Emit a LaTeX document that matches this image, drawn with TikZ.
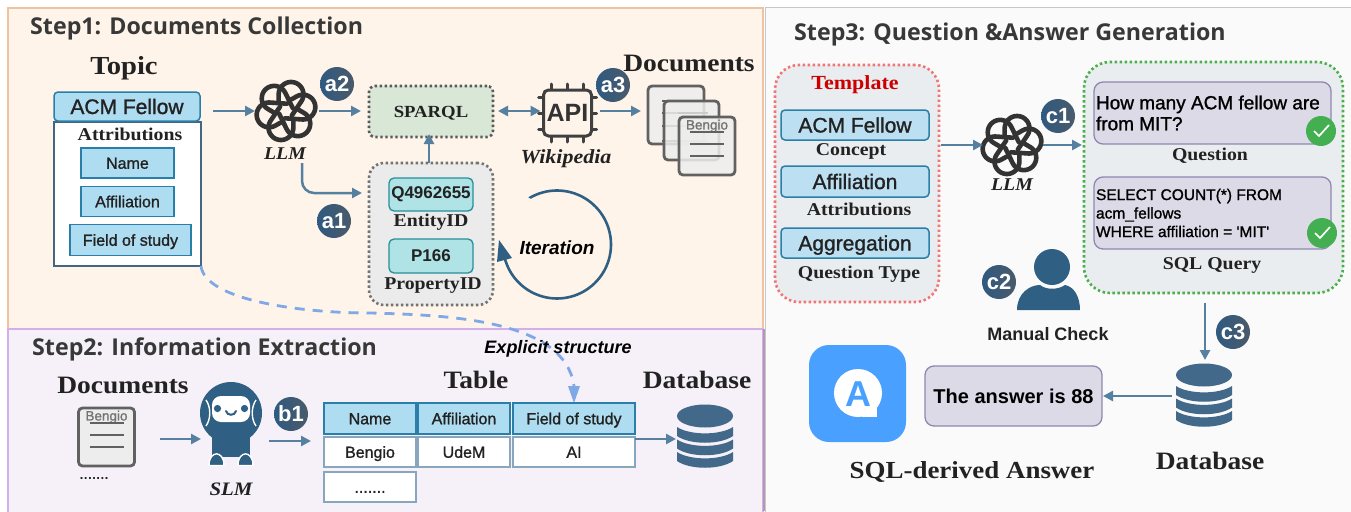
\documentclass[tikz,border=0pt]{standalone}
\usepackage{fontspec}
\setmainfont[FakeStretch=1.1]{Liberation Serif}
\newfontfamily\sa[FakeBold=1.2]{Liberation Sans}
\newfontfamily\sbd{Liberation Sans}
\newfontfamily\ti{Open Sans}
\usetikzlibrary{arrows.meta,calc,shadings}
\newcommand{\fs}[1]{\fontsize{#1}{#1}\selectfont}
\definecolor{arrowc}{HTML}{5580A0}
\definecolor{iconc}{HTML}{2F5F82}
\definecolor{dbc}{HTML}{43698A}
\definecolor{ink}{HTML}{222222}
\definecolor{boxblue}{HTML}{AEDDF2}
\definecolor{boxblueb}{HTML}{BCE0F1}
\definecolor{boxedge}{HTML}{2A7FA8}
\definecolor{dashc}{HTML}{7FA8E6}
\definecolor{purpf}{HTML}{DDDAE8}
\definecolor{purpe}{HTML}{8E88B0}
\definecolor{checkc}{HTML}{44AF50}
\definecolor{stepf}{HTML}{EAEDF0}
\definecolor{panelA}{HTML}{FEF4EA}
\definecolor{panelAe}{HTML}{EDC3A1}
\definecolor{panelB}{HTML}{F6F0F8}
\definecolor{panelBe}{HTML}{D3AEEB}
\definecolor{panelC}{HTML}{FAFAFA}
\definecolor{cyanf}{HTML}{B0E3E5}
\definecolor{cyane}{HTML}{25909A}
\definecolor{sparf}{HTML}{D9E8D6}
\definecolor{aiblue}{HTML}{4AA0FF}
\definecolor{tred}{HTML}{CC0000}
\definecolor{badgeL}{HTML}{2F5A80}
\definecolor{badgeR}{HTML}{4A5A6A}
\tikzset{
  x=1pt,y=-1pt,
  arr/.style={draw=arrowc,line width=2.5pt,-{Triangle[length=10pt,width=10pt]}},
  arrb/.style={draw=arrowc,line width=2.5pt,{Triangle[length=10pt,width=10pt]}-{Triangle[length=10pt,width=10pt]}},
  box/.style={inner sep=0pt,outer sep=0pt,align=center,text=ink},
  icon/.style={inner sep=0pt,outer sep=0pt,minimum size=#1},
  heading/.style={inner sep=0pt,anchor=west,text=black!78,font=\ti\bfseries\fs{23.2}},
  serif/.style={inner sep=0pt,text=ink,font=\bfseries\fs{#1}},
  serifit/.style={inner sep=0pt,text=ink,font=\bfseries\itshape\fs{#1}},
  sanstxt/.style={inner sep=0pt,text=ink,font=\sa\fs{#1}},
  blue/.style={box,draw=boxedge,line width=1.5pt,fill=boxblue,font=\sa\fs{16},text height=11.5pt,text depth=0pt},
  bluer/.style={blue,rounded corners=4pt,font=\sa\fs{21},text height=15pt},
  cyanb/.style={box,draw=cyane,line width=1.3pt,fill=cyanf,rounded corners=5pt,font=\sbd\bfseries\fs{17}},
  cell/.style={box,draw=arrowc!70,line width=1.4pt,fill=white,font=\sa\fs{16},text height=11.5pt,text depth=0pt},
  purp/.style={box,draw=purpe,line width=1.3pt,fill=purpf,rounded corners=9pt},
  dots/.style={box,dash pattern=on 2.4pt off 2.6pt,line width=2.6pt,rounded corners=#1},
  badge/.style={circle,minimum size=34pt,inner sep=0pt,left color=badgeL,right color=badgeR,text=white,font=\sbd\bfseries\fs{22}},
  doc/.style={draw=black!62,line width=2.8pt,fill=black!7,fill opacity=.85,rounded corners=4pt},
  docl/.style={draw=black!62,line width=2.2pt},
}
% OpenAI-like knot
\newcommand{\knot}[2]{%
  \foreach \a in {0,60,...,300}{%
    \begin{scope}[shift={(#1)},rotate=\a+13,scale=#2]
      \draw[draw=black!80,line width=4.6pt,line cap=round,line join=round]
        (0.25,-0.325) -- plot[domain=-107:107,samples=30]({0.56+0.40*cos(\x)},{0.40*sin(\x)}) -- (-0.083,0.222);
    \end{scope}}}
% database icon
\newcommand{\dbicon}[1]{%
  \begin{scope}[shift={(#1)}]
    \fill[dbc] (0,-21) ellipse (28 and 11.5);
    \foreach \y in {-10,2.5,15}{%
      \fill[dbc] (-28,\y) .. controls (-15,\y+8.5) and (15,\y+8.5) .. (28,\y) -- (28,\y+9) .. controls (15,\y+18) and (-15,\y+18) .. (-28,\y+9) -- cycle;}
  \end{scope}}
% document icon
\newcommand{\docicon}[1]{%
  \begin{scope}[shift={(#1)}]
    \draw[doc] (-28,-29) rectangle (28,29);
    \node[inner sep=0pt,text=black!55,font=\sa\fs{13.5}] at (0,-20) {Bengio};
    \foreach \y in {-14,-2,10}{\draw[docl] (-17,\y) -- (17,\y);}
  \end{scope}}
% check
\newcommand{\checkicon}[1]{%
  \fill[checkc] (#1) circle (15);
  \draw[white,line width=1.7pt] ($(#1)+(-7,0)$) -- ($(#1)+(-2,5)$) -- ($(#1)+(8,-6)$);}
\begin{document}
\begin{tikzpicture}
\useasboundingbox (0,0) rectangle (1351,511);
\fill[white] (0,0) rectangle (1351,511);
% panels
\path[fill=panelA,draw=panelAe,line width=1.6pt] (8,8) rectangle (763,329);
\path[fill=panelB,draw=panelBe,line width=1.8pt] (8,329) rectangle (763,516);
\path[fill=panelC,draw=black!22,line width=1pt] (765,8) rectangle (1356,516);
\draw[draw=violet!35!gray!60!white,line width=2.5pt] (764,329) -- (764,511);
% titles
\node[heading] (t1) at (30,28) {Step1: Documents Collection};
\node[heading] (t2) at (32,349) {Step2: Information Extraction};
\node[heading] (t3) at (794,34.5) {Step3: Question \&Answer Generation};

% STEP 1
\node[serif=26] (topic) at (124,68) {Topic};
\node[box,draw=arrowc!80!black,line width=1.4pt,fill=white,minimum width=147pt,minimum height=144pt] (attr) at (127.5,194) {};
\node[bluer,minimum width=146pt,minimum height=29pt] (acm) at (127,106.5) {ACM Fellow};
\node[serif=18] (attrt) at (130,134) {Attributions};
\node[blue,minimum width=93pt,minimum height=30pt] (name) at (127.5,163) {Name};
\node[blue,minimum width=93pt,minimum height=30pt] (aff) at (127.5,201.5) {Affiliation};
\node[blue,minimum width=121pt,minimum height=31pt] (fos) at (130.5,240) {Field of study};

\node[icon=62pt] (llma) at (286,111) {};
\knot{llma}{31}
\node[serifit=18] (llmal) at (285,154) {LLM};
\node[box,draw=black!65,dots=6pt,fill=sparf,minimum width=124pt,minimum height=51pt,font=\bfseries\fs{17},text height=11.5pt,text depth=0pt] (sparql) at (431,111.5) {SPARQL};
\node[box,draw=black!55,dots=15pt,fill=black!8,minimum width=124pt,minimum height=142pt] (ids) at (431,234) {};
\node[cyanb,minimum width=84pt,minimum height=33pt] (q) at (431,194.5) {Q4962655};
\node[serif=18] (ql) at (431,222.5) {EntityID};
\node[cyanb,minimum width=84pt,minimum height=34pt] (p) at (431,256) {P166};
\node[serif=18] (pl) at (433,286) {PropertyID};

\node[icon=50pt] (api) at (567.5,113) {};
\foreach \t in {-16,0,16}{%
  \draw[black!75,line width=3pt,line cap=round] ($(api)+(\t,-29)$) -- ($(api)+(\t,-22)$);
  \draw[black!75,line width=3pt,line cap=round] ($(api)+(\t,22)$) -- ($(api)+(\t,29)$);
  \draw[black!75,line width=3pt,line cap=round] ($(api)+(-29,\t)$) -- ($(api)+(-22,\t)$);
  \draw[black!75,line width=3pt,line cap=round] ($(api)+(22,\t)$) -- ($(api)+(29,\t)$);}
\node[box,draw=black!75,line width=3pt,fill=panelA,rounded corners=5pt,minimum width=48pt,minimum height=46pt,font=\sbd\bfseries\fs{25},text=black!80] (apib) at (api) {API};
\node[serifit=20] (wiki) at (566,159) {Wikipedia};
\node[serif=25] (docs1) at (689,63) {Documents};
\node[icon=58pt] (d1) at (676,115) {};
\draw[doc] (648,86) rectangle (704,144);
\foreach \y in {101,113,126,141}{\draw[docl] (662,\y) -- (693,\y);}
\draw[doc] (664,101) rectangle (719,160);
\foreach \y in {113,126,141}{\draw[docl,black!20] (678,\y) -- (708,\y);}
\node[icon=58pt] (d3) at (707,146) {};
\docicon{d3}

\node[badge] (a2) at (337,84) {a2};
\node[badge] (a1) at (334,221) {a1};
\node[badge] (a3) at (613,85) {a3};

\draw[arr] ([shift={(13,4.5)}]acm.east) -- (llma.west);
\draw[arr] ([shift={(2,0)}]llma.east) -- ([shift={(-8,-.5)}]sparql.west);
\coordinate (elbowS) at (302,163);
\coordinate (elbow) at (302,193);
\draw[arr,rounded corners=12pt] (elbowS) -- (elbow) -- ([shift={(-7,-41)}]ids.west);
\draw[arr] ([shift={(-2,0)}]ids.north) -- ([shift={(-2,-3)}]sparql.south);
\draw[arrb] ([shift={(5,-.5)}]sparql.east) -- ([shift={(-3,-2)}]apib.west);
\draw[arr] ([shift={(8,-2)}]apib.east) -- ([shift={(-6,-4)}]d1.west);
\coordinate (itA) at (530,198);
\coordinate (itB) at (499,240);
\draw[iconc,line width=2.6pt] (itA) -- plot[domain=120:-166,samples=80]({557+54*cos(\x)},{244.5-54*sin(\x)});
\fill[iconc] (itB) -- (497,262) -- (512,258) -- cycle;
\node[inner sep=0pt,font=\sbd\bfseries\itshape\fs{19},text=black] (iter) at (557,248) {Iteration};

% Dashed
\coordinate (dA) at (574,403);
\draw[draw=dashc,line width=2.8pt,dash pattern=on 10pt off 8pt]
  (attr.south east) .. controls (205,300) and (300,313) .. (370,313) .. controls (450,315) and (565,320) .. (574,386);
\fill[dashc] (568,386) -- (580,386) -- (dA) -- cycle;

% STEP 2
\node[inner sep=0pt,font=\sbd\bfseries\itshape\fs{18},text=black] (expl) at (558,349) {Explicit structure};
\node[serif=25] (docs2) at (123,385) {Documents};
\node[serif=25] (tablet) at (476,380) {Table};
\node[serif=25] (db2l) at (697,380) {Database};
\node[icon=58pt] (d4) at (106.5,437) {};
\docicon{d4}
\node[sanstxt=15] (dd1) at (94,478) {.......};

\node[icon=64pt] (slm) at (231,424) {};
\begin{scope}[shift={(slm)}]
  \fill[iconc] (0,-11) circle (31);
  \fill[iconc] (-19,6) rectangle (19,33);
  \fill[white,rounded corners=9pt] (-19,-28) rectangle (19,-2);
  \fill[iconc] (-13.5,-15.5) circle (3.6) (13.5,-15.5) circle (3.6);
  \draw[iconc,line width=2pt,line cap=round] (-5,-13) .. controls (-4,-8) and (4,-8) .. (5,-13);
  \draw[white,line width=1.4pt] (-25,-24) .. controls (-20,-17) and (-20,-5) .. (-25,2);
  \draw[white,line width=1.4pt] (25,-24) .. controls (20,-17) and (20,-5) .. (25,2);
  \fill[iconc,draw=white,line width=1.4pt] (-22,41.5) .. controls (-22,26) and (-7,26) .. (-7,41.5) -- cycle;
  \fill[iconc,draw=white,line width=1.4pt] (7,41.5) .. controls (7,26) and (22,26) .. (22,41.5) -- cycle;
  \fill[panelB] (-24,42) rectangle (24,45);
\end{scope}
\node[serifit=19] (slml) at (231,489) {SLM};
\node[badge] (b1) at (291,414) {b1};

\node[blue,minimum width=92pt,minimum height=31pt] (hn) at (370,418.5) {Name};
\node[blue,minimum width=92pt,minimum height=31pt] (ha) at (464,418.5) {Affiliation};
\node[blue,minimum width=122pt,minimum height=31pt] (hf) at (574,418.5) {Field of study};
\node[cell,minimum width=92pt,minimum height=30pt] (c1b) at (370,452) {Bengio};
\node[cell,minimum width=92pt,minimum height=30pt] (c2b) at (464,452) {UdeM};
\node[cell,minimum width=122pt,minimum height=30pt] (c3b) at (574,452) {AI};
\node[cell,minimum width=92pt,minimum height=30pt] (c1c) at (370,487) {.......};
\node[icon=56pt] (db2) at (705,437) {};
\dbicon{db2}

\draw[arr] ([shift={(24,2)}]d4.east) -- ([shift={(-30,15)}]slm.center);
\draw[arr] ([shift={(6,17)}]slm.east) -- ([shift={(-13,22.5)}]hn.west);
\draw[arr] ([shift={(0,-13)}]c3b.east) -- ([shift={(-1,2)}]db2.west);

% STEP 3
\node[box,draw=red!55!white!90!gray,dots=24pt,fill=stepf,minimum width=164pt,minimum height=237pt] (tmpl) at (857,183.5) {};
\node[serif=20,text=tred] (tmplt) at (855,85) {Template};
\node[bluer,fill=boxblueb,minimum width=148pt,minimum height=30pt] (tacm) at (855,125) {ACM Fellow};
\node[serif=18] (tc) at (851,151) {Concept};
\node[bluer,fill=boxblueb,minimum width=148pt,minimum height=31pt] (taff) at (855,181.5) {Affiliation};
\node[serif=18] (ta) at (859,209) {Attributions};
\node[bluer,fill=boxblueb,minimum width=148pt,minimum height=30pt] (tagg) at (855,243) {Aggregation};
\node[serif=18] (tq) at (859,274) {Question Type};

\node[icon=62pt] (llmb) at (1012,145) {};
\knot{llmb}{31}
\node[serifit=18] (llmbl) at (1012,185) {LLM};

\node[box,draw=green!55!black!70!white,dots=26pt,fill=stepf,minimum width=259pt,minimum height=231pt] (out) at (1213.5,177.5) {};
\node[purp,minimum width=237pt,minimum height=62pt,align=left,font=\sa\fs{19},text=black] (qb) at (1212.5,113) {\parbox{233pt}{\baselineskip=21pt How many ACM fellow are\\from MIT?}};
\node[serif=18] (qbl) at (1210,156) {Question};
\node[purp,minimum width=237pt,minimum height=72pt,align=left,font=\sa\fs{15.5},text=black] (sb) at (1212.5,213) {\parbox{233pt}{\baselineskip=18.5pt SELECT COUNT(*) FROM\\acm\_fellows\\WHERE affiliation = 'MIT'}};
\node[serif=18] (sbl) at (1212,265) {SQL Query};
\coordinate (ck1) at (1321,131);
\coordinate (ck2) at (1322,233);
\checkicon{ck1}
\checkicon{ck2}

\node[icon=64pt] (person) at (1049,279) {};
\fill[iconc] (1052,267) circle (18);
\fill[iconc] (1017,310) .. controls (1017,293) and (1030,285) .. (1040,285) .. controls (1046,290) and (1058,290) .. (1065,285) .. controls (1075,287) and (1080,298) .. (1080,310) -- cycle;
\node[inner sep=0pt,text=ink,font=\sbd\bfseries\fs{18}] (mc) at (1048,334) {Manual Check};

\node[icon=56pt] (db3) at (1204,396) {};
\dbicon{db3}
\node[serif=25] (db3l) at (1210,461) {Database};
\node[purp,minimum width=177pt,minimum height=60pt,font=\sbd\bfseries\fs{20},text=black] (ans) at (1013.5,396) {The answer is 88};
\node[box,fill=aiblue,rounded corners=20pt,minimum width=97pt,minimum height=97pt] (ai) at (857.5,393.5) {};
\fill[white] (858,393) circle (24);
\fill[white] (862,405) rectangle (877,417);
\node[inner sep=0pt,text=aiblue,font=\sbd\bfseries\fs{36}] (aA) at (858,394) {A};
\node[serif=24.5] (al) at (972,472) {SQL-derived Answer};

\node[badge] (c1) at (1058,116) {c1};
\node[badge] (c2) at (999,282) {c2};
\node[badge] (c3) at (1233,332) {c3};

\draw[arr] ([shift={(2,-38.5)}]tmpl.east) -- ([shift={(2,0)}]llmb.west);
\draw[arr] (llmb.east) -- ([shift={(-2,-32.5)}]out.west);
\draw[arr] ([shift={(-8.5,10)}]out.south) -- ([shift={(1,-8)}]db3.north);
\draw[arr] ([shift={(-4,0)}]db3.west) -- ([shift={(1,0)}]ans.east);
\end{tikzpicture}
\end{document}
